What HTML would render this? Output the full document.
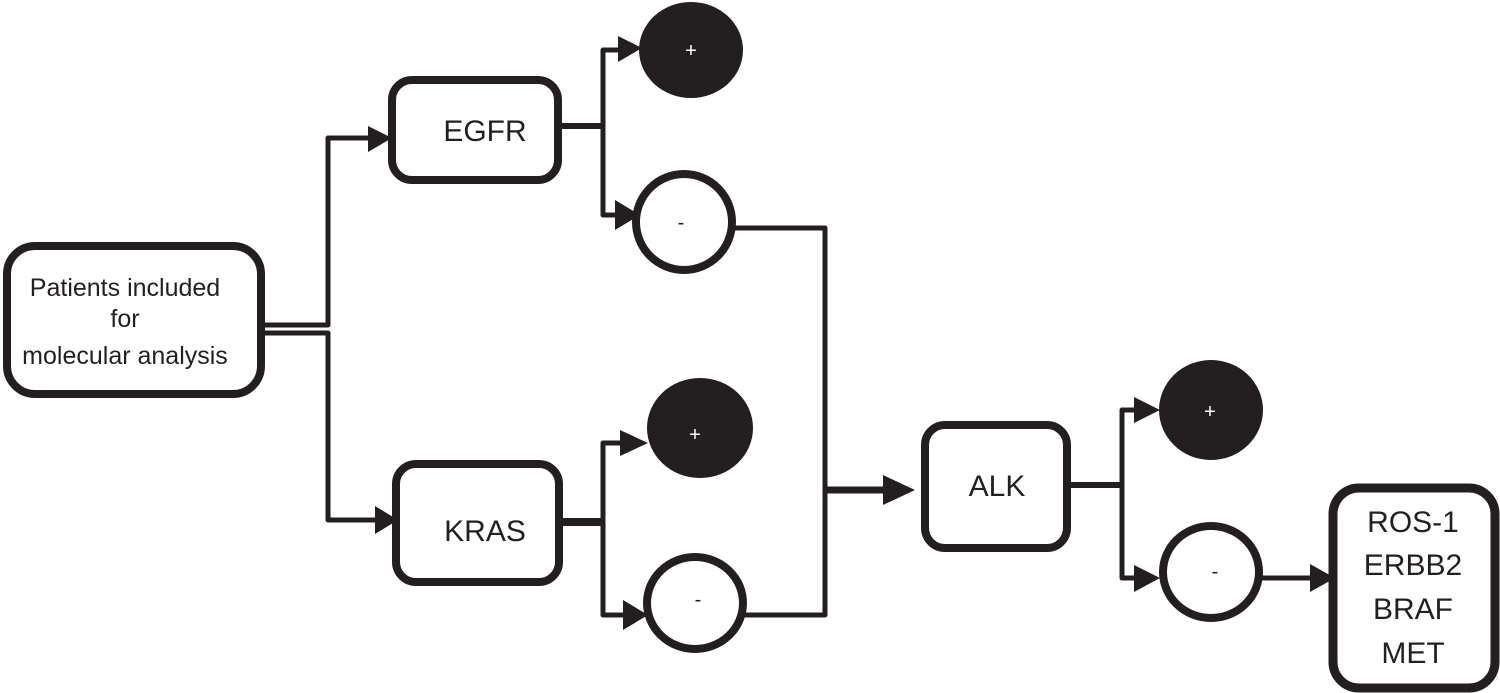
<!DOCTYPE html>
<html><head><meta charset="utf-8"><style>
html,body{margin:0;padding:0;background:#fff;}
svg{display:block;}
text{font-family:"Liberation Sans",sans-serif;}
</style></head><body>
<svg width="1500" height="693" viewBox="0 0 1500 693" xmlns="http://www.w3.org/2000/svg">
<g fill="none" stroke="#231f20" stroke-linejoin="round">
<rect x="7" y="246" width="254" height="148" rx="28" stroke-width="8" fill="#fff"/>
<rect x="392" y="80" width="166" height="100" rx="20" stroke-width="8" fill="#fff"/>
<rect x="396" y="464" width="163" height="118" rx="20" stroke-width="8" fill="#fff"/>
<rect x="925" y="425" width="142" height="123" rx="20" stroke-width="8" fill="#fff"/>
<rect x="1333" y="488" width="162" height="200" rx="26" stroke-width="9" fill="#fff"/>
<circle cx="684" cy="222" r="48" stroke-width="8" fill="#fff"/>
<ellipse cx="695" cy="603" rx="48" ry="46" stroke-width="8" fill="#fff"/>
<ellipse cx="1211" cy="572" rx="48" ry="46" stroke-width="8" fill="#fff"/>
<!-- connectors -->
<polyline points="263,325 328,325 328,138 372,138" stroke-width="5"/>
<polyline points="263,333 328,333 328,520 382,520" stroke-width="5"/>
<polyline points="560,126 603,126" stroke-width="6"/>
<polyline points="625,50 603,50 603,215 620,215" stroke-width="5"/>
<polyline points="563,522 603,522" stroke-width="8"/>
<polyline points="630,443 603,443 603,615 630,615" stroke-width="5"/>
<polyline points="735,228 825,228 825,615 745,615" stroke-width="5"/>
<polyline points="825,490 885,490" stroke-width="7"/>
<polyline points="1070,485 1122,485" stroke-width="6"/>
<polyline points="1140,410 1122,410 1122,578 1140,578" stroke-width="5"/>
<polyline points="1260,578 1315,578" stroke-width="5"/>
</g>
<g fill="#231f20">
<polygon points="368,126 392,138 368,152"/>
<polygon points="375,506 398,520 375,534"/>
<polygon points="618,36 642,48 618,62"/>
<polygon points="615,200 640,215 615,230"/>
<polygon points="620,430 648,443 620,456"/>
<polygon points="623,600 648,615 623,630"/>
<polygon points="883,475 915,490 883,505"/>
<polygon points="1134,397 1160,410 1134,423"/>
<polygon points="1134,565 1160,578 1134,592"/>
<polygon points="1310,564 1335,578 1310,592"/>
<ellipse cx="691" cy="50" rx="52" ry="48"/>
<ellipse cx="700" cy="428" rx="53" ry="50"/>
<ellipse cx="1211" cy="410" rx="52" ry="50"/>
</g>
<g fill="#231f20" text-anchor="middle">
<text x="125" y="296" font-size="25">Patients included</text>
<text x="125" y="327" font-size="25">for</text>
<text x="125" y="364" font-size="25">molecular analysis</text>
<text x="485" y="141" font-size="30">EGFR</text>
<text x="485" y="541" font-size="30">KRAS</text>
<text x="997" y="496" font-size="30">ALK</text>
<text x="1413" y="532" font-size="30">ROS-1</text>
<text x="1413" y="575" font-size="30">ERBB2</text>
<text x="1413" y="619" font-size="30">BRAF</text>
<text x="1413" y="663" font-size="30">MET</text>
<text x="681" y="229" font-size="20">-</text>
<text x="698" y="606" font-size="20">-</text>
<text x="1215" y="578" font-size="20">-</text>
</g>
<g fill="#fff" text-anchor="middle">
<text x="691" y="57" font-size="20">+</text>
<text x="695" y="441" font-size="20">+</text>
<text x="1210" y="418" font-size="20">+</text>
</g>
</svg>
</body></html>
